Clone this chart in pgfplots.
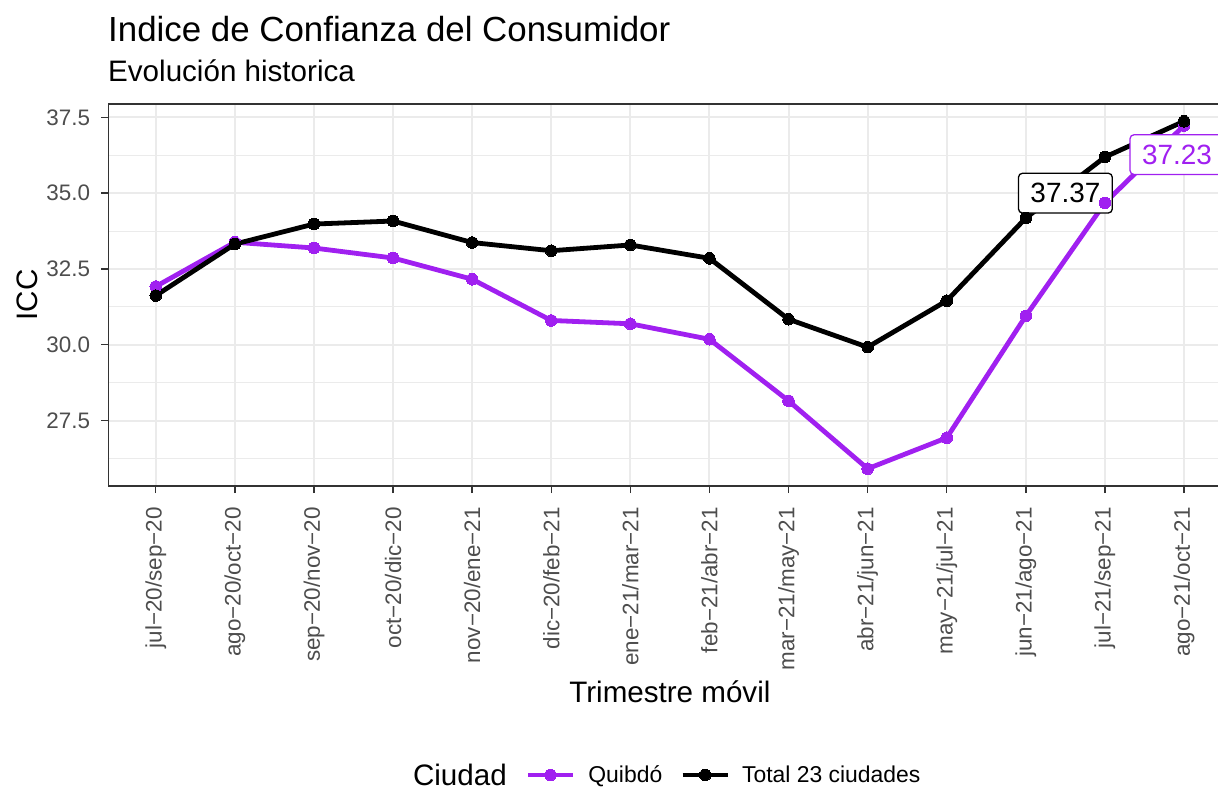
\documentclass[border=0pt]{standalone}
\usepackage{pgfplots}
\pgfplotsset{compat=1.18}
\usepackage{fontspec}
\setmainfont{Liberation Sans}
\definecolor{qpurple}{HTML}{A020F0}
\definecolor{gridc}{HTML}{EBEBEB}
\definecolor{borderc}{HTML}{333333}
\definecolor{tickc}{HTML}{4D4D4D}

\pgfplotstableread{
x y
0 31.92
1 33.38
2 33.19
3 32.86
4 32.16
5 30.80
6 30.69
7 30.18
8 28.15
9 25.91
10 26.93
11 30.95
12 34.68
13 37.23
}\quibdo

\pgfplotstableread{
x y
0 31.62
1 33.32
2 33.98
3 34.08
4 33.37
5 33.10
6 33.29
7 32.85
8 30.84
9 29.92
10 31.45
11 34.18
12 36.19
13 37.37
}\total

\begin{document}
\begin{tikzpicture}
\useasboundingbox (0,0) rectangle (1218bp,787bp);
\node[anchor=base west, font=\fontsize{35}{35}\selectfont, inner sep=0pt] at (108bp,745bp) {Indice de Confianza del Consumidor};
\node[anchor=base west, font=\fontsize{29.7}{29.7}\selectfont, inner sep=0pt] at (108bp,705bp) {Evolución historica};
\node[anchor=east, font=\fontsize{29.7}{29.7}\selectfont, inner sep=0pt] at (507bp,12bp) {Ciudad};
\begin{axis}[
  at={(108.3bp,301bp)}, anchor=south west,
  scale only axis, width=1123.2bp, height=382bp,
  xmin=-0.6, xmax=13.6, ymin=25.34, ymax=37.94,
  xtick={0,1,2,3,4,5,6,7,8,9,10,11,12,13},
  xticklabels={jul−20/sep−20,ago−20/oct−20,sep−20/nov−20,oct−20/dic−20,nov−20/ene−21,dic−20/feb−21,ene−21/mar−21,feb−21/abr−21,mar−21/may−21,abr−21/jun−21,may−21/jul−21,jun−21/ago−21,jul−21/sep−21,ago−21/oct−21},
  ytick={27.5,30,32.5,35,37.5},
  yticklabels={27.5,30.0,32.5,35.0,37.5},
  minor ytick={26.25,28.75,31.25,33.75,36.25},
  xmajorgrids, ymajorgrids, yminorgrids,
  major grid style={gridc, line width=2bp},
  minor grid style={gridc, line width=1bp},
  axis line style={borderc, line width=1.4bp},
  major tick style={borderc, line width=1.4bp},
  major tick length=7bp, minor tick length=0pt, tick align=outside,
  xtick pos=bottom, ytick pos=left,
  ticklabel style={font=\fontsize{22.5}{22.5}\selectfont, text=tickc},
  xticklabel style={rotate=90, anchor=east, inner xsep=14bp},
  yticklabel style={inner xsep=11bp},
  xlabel={Trimestre móvil}, ylabel={ICC},
  label style={font=\fontsize{29.7}{29.7}\selectfont},
  xlabel style={at={(axis description cs:0.5,-0.539)}, anchor=center},
  ylabel style={at={(axis description cs:-0.0725,0.5)}, anchor=center},
  legend columns=-1,
  legend style={draw=none, fill=none, at={(0.5473,-0.7565)}, anchor=center,
    font=\fontsize{23}{23}\selectfont, inner sep=0pt,
    nodes={inner sep=0pt},
    /tikz/every odd column/.append style={column sep=0pt},
    /tikz/every even column/.append style={column sep=0pt}},
  legend image code/.code={\draw[mark repeat=2,mark phase=2,#1] plot coordinates {(0bp,0bp) (22.5bp,0bp) (45bp,0bp)};},
]
\addplot[qpurple, line width=4.8bp, mark=*, mark size=5.8bp, mark options={solid, fill=qpurple, draw=qpurple, line width=0pt}] table[x=x,y=y] {\quibdo};
\addlegendentry{\hspace{13bp}Quibdó\hspace{18bp}\mbox{}}
\addplot[black, line width=4.8bp, mark=*, mark size=5.8bp, mark options={solid, fill=black, draw=black, line width=0pt}] table[x=x,y=y] {\total};
\addlegendentry{\hspace{12bp}Total 23 ciudades}
\node[draw=black, fill=white, rounded corners=4bp, line width=1.3bp, font=\fontsize{28}{28}\selectfont, inner xsep=12bp, inner ysep=10bp] at (axis cs:11.5,35.0) {37.37};
\node[draw=qpurple, text=qpurple, fill=white, rounded corners=4bp, line width=1.3bp, font=\fontsize{28}{28}\selectfont, inner xsep=12bp, inner ysep=10bp] at (axis cs:12.91,36.27) {37.23};
\end{axis}
\end{tikzpicture}
\end{document}
